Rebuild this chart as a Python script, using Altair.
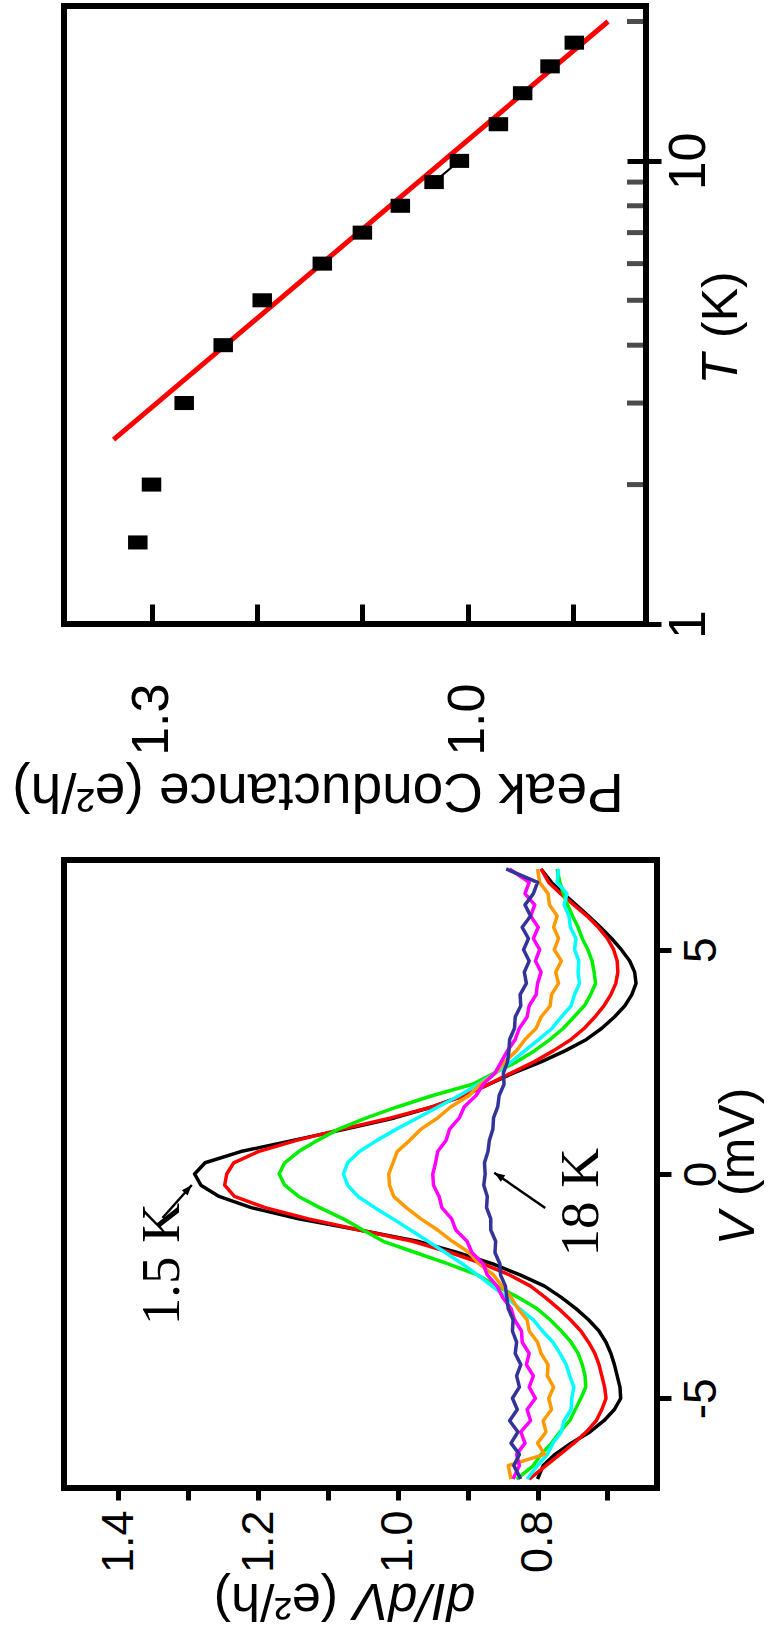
import altair as alt
import pandas as pd

# ---------------- peak conductance versus temperature ----------------
peak_T = [1.5, 2, 3, 4, 5, 6, 7, 8, 9, 10, 12, 14, 16, 18]
peak_G = [1.313, 1.300, 1.269, 1.232, 1.195, 1.138, 1.100, 1.064, 1.032,
          1.008, 0.971, 0.948, 0.922, 0.899]

# logarithmic fit, given by its two end points
fit_T = [2.5, 20.0]
fit_G = [1.336, 0.867]

top_G_ticks = [1.3, 1.2, 1.1, 1.0, 0.9]
top_T_major = [1, 10]
top_T_minor = [2, 3, 4, 5, 6, 7, 8, 9, 20]

# ---------------- dI/dV spectra ----------------
bias_mV = [-6.8, -6.5, -6.25, -6.0, -5.75, -5.5, -5.25, -5.0, -4.75, -4.5,
           -4.25, -4.0, -3.75, -3.5, -3.25, -3.0, -2.75,
           -2.5, -2.25, -2.0, -1.75, -1.5, -1.25, -1.0, -0.75, -0.5, -0.25, 0.0,
           0.25, 0.5, 0.75, 1.0, 1.25, 1.5, 1.75, 2.0, 2.25, 2.5,
           2.75, 3.0, 3.25, 3.5, 3.75, 4.0, 4.25, 4.5, 4.75, 5.0,
           5.25, 5.5, 5.75, 6.0, 6.25, 6.5, 6.8]

didv_black = [0.800, 0.792, 0.775, 0.752, 0.725, 0.705, 0.690, 0.681, 0.682, 0.686,
              0.690, 0.695, 0.702, 0.712, 0.727, 0.745, 0.766,
              0.790, 0.825, 0.865, 0.915, 0.972, 1.055, 1.142, 1.210, 1.256, 1.282, 1.291,
              1.276, 1.225, 1.150, 1.075, 1.005, 0.950, 0.905, 0.870, 0.835, 0.795,
              0.760, 0.730, 0.708, 0.690, 0.675, 0.665, 0.659, 0.661, 0.668, 0.680,
              0.694, 0.710, 0.727, 0.745, 0.763, 0.780, 0.795]
didv_red = [0.812, 0.788, 0.768, 0.748, 0.730, 0.716, 0.708, 0.702, 0.704, 0.708,
            0.712, 0.718, 0.727, 0.738, 0.753, 0.770, 0.789,
            0.810, 0.840, 0.879, 0.925, 0.979, 1.055, 1.128, 1.190, 1.234, 1.248, 1.245,
            1.235, 1.200, 1.145, 1.080, 1.010, 0.950, 0.905, 0.870, 0.838, 0.805,
            0.777, 0.752, 0.733, 0.718, 0.705, 0.695, 0.688, 0.685, 0.686, 0.691,
            0.700, 0.713, 0.729, 0.748, 0.767, 0.784, 0.795]
didv_green = [0.830, 0.806, 0.795, 0.780, 0.768, 0.754, 0.746, 0.738, 0.731, 0.732,
              0.736, 0.742, 0.752, 0.766, 0.782, 0.801, 0.828,
              0.858, 0.886, 0.929, 0.975, 1.021, 1.050, 1.078, 1.112, 1.142, 1.162, 1.170,
              1.162, 1.142, 1.115, 1.085, 1.045, 1.000, 0.950, 0.893, 0.862, 0.830,
              0.804, 0.782, 0.763, 0.748, 0.733, 0.724, 0.717, 0.719, 0.722, 0.728,
              0.736, 0.742, 0.750, 0.757, 0.763, 0.768, 0.772]
didv_cyan = [0.815, 0.800, 0.786, 0.778, 0.766, 0.762, 0.752, 0.751, 0.748, 0.754,
             0.759, 0.768, 0.778, 0.793, 0.806, 0.826, 0.844,
             0.865, 0.886, 0.908, 0.932, 0.957, 0.982, 1.007, 1.033, 1.057, 1.072, 1.078,
             1.072, 1.055, 1.030, 1.002, 0.972, 0.942, 0.912, 0.885, 0.860, 0.838,
             0.818, 0.798, 0.779, 0.766, 0.752, 0.747, 0.740, 0.742, 0.741, 0.747,
             0.745, 0.753, 0.755, 0.762, 0.758, 0.772, 0.770]
didv_orange = [0.838, 0.842, 0.790, 0.800, 0.788, 0.792, 0.780, 0.784, 0.777, 0.786,
               0.785, 0.795, 0.800, 0.812, 0.815, 0.828, 0.838,
               0.851, 0.863, 0.884, 0.898, 0.922, 0.943, 0.967, 0.988, 1.006, 1.012, 1.013,
               1.007, 1.001, 0.983, 0.967, 0.943, 0.924, 0.898, 0.882, 0.860, 0.847,
               0.830, 0.818, 0.802, 0.795, 0.782, 0.780, 0.770, 0.774, 0.766, 0.776,
               0.770, 0.777, 0.772, 0.783, 0.785, 0.797, 0.800]
didv_magenta = [0.835, 0.826, 0.830, 0.818, 0.824, 0.810, 0.815, 0.803, 0.812, 0.806,
                0.816, 0.812, 0.822, 0.823, 0.833, 0.838, 0.850,
                0.858, 0.872, 0.878, 0.894, 0.901, 0.917, 0.923, 0.937, 0.941, 0.949, 0.950,
                0.946, 0.943, 0.931, 0.926, 0.912, 0.905, 0.888, 0.878, 0.861, 0.852,
                0.843, 0.832, 0.826, 0.815, 0.812, 0.802, 0.800, 0.795, 0.803, 0.797,
                0.806, 0.799, 0.810, 0.804, 0.818, 0.812, 0.840]
didv_navy = [0.824, 0.834, 0.826, 0.838, 0.828, 0.840, 0.829, 0.836, 0.826, 0.830,
             0.824, 0.832, 0.830, 0.836, 0.835, 0.842, 0.844,
             0.846, 0.853, 0.854, 0.861, 0.860, 0.867, 0.867, 0.873, 0.872, 0.877, 0.875,
             0.876, 0.871, 0.869, 0.864, 0.863, 0.857, 0.855, 0.848, 0.849, 0.843,
             0.841, 0.840, 0.833, 0.832, 0.824, 0.825, 0.816, 0.819, 0.812, 0.820,
             0.813, 0.822, 0.810, 0.818, 0.806, 0.800, 0.845]

bottom_G_ticks = [1.4, 1.3, 1.2, 1.1, 1.0, 0.9, 0.8, 0.7]
bottom_V_ticks = [-5, 0, 5]

# temperature labels with their arrows (in data units)
label_text = ["1.5 K", "18 K"]
label_G = [1.313, 0.714]
label_V = [-3.37, -1.84]
arrow_G_start = [1.337, 0.789]
arrow_V_start = [-0.98, -0.76]
arrow_G_end = [1.295, 0.862]
arrow_V_end = [-0.245, 0.03]

SANS = "Liberation Sans"
SERIF = "Liberation Serif"

# ======================= top panel =======================
TOP_W, TOP_H = 582, 618

g_top = alt.Scale(domain=[0.831, 1.383], reverse=True, nice=False, zero=False)
t_scale = alt.Scale(type="log", domain=[1, 21.6], nice=False)

x_top_axis = alt.Axis(
    values=top_G_ticks, orient="bottom", offset=-20, tickSize=20, tickWidth=5,
    tickColor="black", domain=False, grid=False, labelAngle=270,
    labelAlign="right", labelBaseline="middle", labelPadding=59,
    labelFontSize=52, labelFont=SANS, labelColor="black",
    labelOverlap=False, labelFlush=False, title=None,
    labelExpr="datum.value == 1.3 || datum.value == 1 ? format(datum.value, '.1f') : ''",
)
y_top_axis = alt.Axis(
    values=top_T_major, orient="right", offset=-19, tickSize=34, tickWidth=5,
    tickColor="black", domain=False, grid=False, labelAngle=270,
    labelAlign="center", labelBaseline="top", labelPadding=2,
    labelFontSize=52, labelFont=SANS, labelColor="black",
    labelOverlap=False, labelFlush=False, title=None,
    labelExpr="toString(datum.value)",
)

peak_df = pd.DataFrame({"T": peak_T, "G": peak_G})
fit_df = pd.DataFrame({"T": fit_T, "G": fit_G})
link_df = pd.DataFrame({"T": peak_T[8:10], "G": peak_G[8:10]})
minor_df = pd.DataFrame({"T": top_T_minor})

fit_line = alt.Chart(fit_df).mark_line(color="#ff0000", strokeWidth=5).encode(
    x=alt.X("G:Q", scale=g_top, axis=x_top_axis),
    y=alt.Y("T:Q", scale=t_scale, axis=y_top_axis),
)
link_line = alt.Chart(link_df).mark_line(color="black", strokeWidth=2).encode(
    x=alt.X("G:Q", scale=g_top), y=alt.Y("T:Q", scale=t_scale)
)
points = alt.Chart(peak_df).mark_point(
    shape="M-1,-0.72L1,-0.72L1,0.72L-1,0.72Z", filled=True, color="black",
    size=380, opacity=1,
).encode(x=alt.X("G:Q", scale=g_top), y=alt.Y("T:Q", scale=t_scale))

minor_ticks = alt.Chart(minor_df).mark_tick(
    orient="horizontal", color="black", thickness=5, size=19
).encode(y=alt.Y("T:Q", scale=t_scale), x=alt.value(TOP_W - 9.5))

# axis titles: italic symbol followed by the roman unit
t_title_a = alt.Chart(pd.DataFrame({"s": ["T"]})).mark_text(
    font=SANS, fontSize=50, fontStyle="italic", angle=270, align="right",
    baseline="alphabetic", color="black",
).encode(text="s:N", x=alt.value(673), y=alt.value(348))
t_title_b = alt.Chart(pd.DataFrame({"s": ["(K)"]})).mark_text(
    font=SANS, fontSize=50, angle=270, align="left", dx=16,
    baseline="alphabetic", color="black",
).encode(text="s:N", x=alt.value(673), y=alt.value(348))
g_title = alt.Chart(pd.DataFrame({"s": ["Peak Conductance (e\u00b2/h)"]})).mark_text(
    font=SANS, fontSize=55, angle=180, align="center",
    baseline="alphabetic", color="black",
).encode(text="s:N", x=alt.value(254), y=alt.value(768))

top = alt.layer(
    fit_line, link_line, points, minor_ticks, t_title_a, t_title_b, g_title
).properties(width=TOP_W, height=TOP_H)

# ======================= bottom panel =======================
BOT_W, BOT_H = 593, 628

g_bot = alt.Scale(domain=[0.629, 1.478], reverse=True, nice=False, zero=False)
v_scale = alt.Scale(domain=[-7, 7], nice=False, zero=False)

x_bot_axis = alt.Axis(
    values=bottom_G_ticks, orient="bottom", tickSize=12, tickWidth=5,
    tickColor="black", domain=False, grid=False, labelAngle=270,
    labelAlign="right", labelBaseline="middle", labelPadding=10,
    labelFontSize=45, labelFont=SANS, labelColor="black",
    labelOverlap=False, labelFlush=False, title=None,
    labelExpr="indexof([1.4, 1.2, 1, 0.8], datum.value) >= 0 ? format(datum.value, '.1f') : ''",
)
y_bot_axis = alt.Axis(
    values=bottom_V_ticks, orient="right", tickSize=14, tickWidth=5,
    tickColor="black", domain=False, grid=False, labelAngle=270,
    labelAlign="center", labelBaseline="top", labelPadding=8,
    labelFontSize=46, labelFont=SANS, labelColor="black",
    labelOverlap=False, labelFlush=False, title=None,
    labelExpr="toString(datum.value)",
)

series = [
    ("black", didv_black),
    ("#ff0000", didv_red),
    ("#00ee00", didv_green),
    ("#00ffff", didv_cyan),
    ("#ff9900", didv_orange),
    ("#ff00ff", didv_magenta),
    ("#333399", didv_navy),
]

curve_layers = []
for i, (colour, values) in enumerate(series):
    df = pd.DataFrame({"V": bias_mV, "G": values})
    if i == 0:
        x_enc = alt.X("G:Q", scale=g_bot, axis=x_bot_axis)
        y_enc = alt.Y("V:Q", scale=v_scale, axis=y_bot_axis)
    else:
        x_enc = alt.X("G:Q", scale=g_bot)
        y_enc = alt.Y("V:Q", scale=v_scale)
    curve_layers.append(
        alt.Chart(df)
        .mark_line(color=colour, strokeWidth=3.5, strokeJoin="round")
        .encode(x=x_enc, y=y_enc, order=alt.Order("V:Q"))
    )

arrow_df = pd.DataFrame({
    "G1": arrow_G_start, "V1": arrow_V_start,
    "G2": arrow_G_end, "V2": arrow_V_end,
})
arrows = alt.Chart(arrow_df).mark_rule(color="black", strokeWidth=2.5).encode(
    x=alt.X("G1:Q", scale=g_bot), y=alt.Y("V1:Q", scale=v_scale),
    x2="G2:Q", y2="V2:Q",
)
head_shape = "M0,0L0.55,1.5L-0.55,1.5Z"
head_a = alt.Chart(arrow_df.iloc[[0]]).mark_point(
    shape=head_shape, filled=True, color="black", size=200, opacity=1, angle=42
).encode(x=alt.X("G2:Q", scale=g_bot), y=alt.Y("V2:Q", scale=v_scale))
head_b = alt.Chart(arrow_df.iloc[[1]]).mark_point(
    shape=head_shape, filled=True, color="black", size=200, opacity=1, angle=304
).encode(x=alt.X("G2:Q", scale=g_bot), y=alt.Y("V2:Q", scale=v_scale))

labels_df = pd.DataFrame({"txt": label_text, "G": label_G, "V": label_V})
temp_labels = alt.Chart(labels_df).mark_text(
    font=SERIF, fontSize=55, angle=270, align="left", baseline="alphabetic",
    color="black",
).encode(x=alt.X("G:Q", scale=g_bot), y=alt.Y("V:Q", scale=v_scale), text="txt:N")

d_title_a = alt.Chart(pd.DataFrame({"s": ["dI/dV"]})).mark_text(
    font=SANS, fontSize=52, fontStyle="italic", angle=180, align="right",
    baseline="alphabetic", color="black",
).encode(text="s:N", x=alt.value(290), y=alt.value(724))
d_title_b = alt.Chart(pd.DataFrame({"s": ["(e\u00b2/h)"]})).mark_text(
    font=SANS, fontSize=52, angle=180, align="left", dx=16,
    baseline="alphabetic", color="black",
).encode(text="s:N", x=alt.value(290), y=alt.value(724))
v_title_a = alt.Chart(pd.DataFrame({"s": ["V"]})).mark_text(
    font=SANS, fontSize=50, fontStyle="italic", angle=270, align="right",
    baseline="alphabetic", color="black",
).encode(text="s:N", x=alt.value(690), y=alt.value(352))
v_title_b = alt.Chart(pd.DataFrame({"s": ["(mV)"]})).mark_text(
    font=SANS, fontSize=50, angle=270, align="left", dx=16,
    baseline="alphabetic", color="black",
).encode(text="s:N", x=alt.value(690), y=alt.value(352))

bottom = alt.layer(
    *curve_layers, arrows, head_a, head_b, temp_labels,
    d_title_a, d_title_b, v_title_a, v_title_b,
).properties(width=BOT_W, height=BOT_H)

chart = (
    alt.vconcat(top, bottom, spacing=236, bounds="flush")
    .properties(padding={"left": 9, "top": 3, "right": 4, "bottom": 4},
                background="white")
    .configure_view(stroke="black", strokeWidth=6)
)

chart.save("out.html", embed_options={"renderer": "svg", "actions": False})
